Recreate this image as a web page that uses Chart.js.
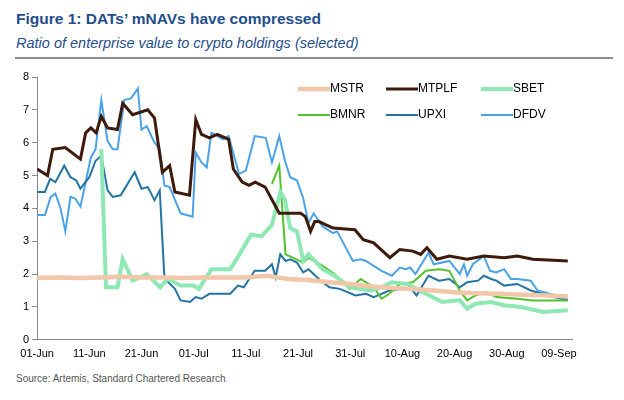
<!DOCTYPE html>
<html>
<head>
<meta charset="utf-8">
<script src="https://cdn.jsdelivr.net/npm/chart.js@4"></script>
<style>
  body { margin: 0; width: 624px; height: 400px; background: #fff; font-family: "Liberation Sans", Arial, sans-serif; position: relative; }
  #title { position: absolute; left: 16px; top: 10px; font-size: 15.5px; font-weight: bold; color: #1f4e8c; }
  #subtitle { position: absolute; left: 16px; top: 35px; font-size: 14.5px; font-style: italic; color: #1f4e8c; }
  #rule { position: absolute; left: 15px; top: 57px; width: 598px; height: 2px; background: #8c8c8c; }
  #wrap { position: absolute; left: 0; top: 62px; width: 624px; height: 302px; }
  #source { position: absolute; left: 16px; top: 373px; font-size: 10px; color: #555; }
</style>
</head>
<body>
<div id="title">Figure 1: DATs’ mNAVs have compressed</div>
<div id="subtitle">Ratio of enterprise value to crypto holdings (selected)</div>
<div id="rule"></div>
<div id="wrap"><canvas id="chart"></canvas></div>
<div id="source">Source: Artemis, Standard Chartered Research</div>
<script>
// x = days since 01-Jun
const TICK_LABELS = ["01-Jun", "11-Jun", "21-Jun", "01-Jul", "11-Jul", "21-Jul", "31-Jul", "10-Aug", "20-Aug", "30-Aug", "09-Sep"];

const mstrDays = [0, 4, 8, 12, 16, 20, 24, 28, 32, 36, 40, 44, 46, 48, 52, 56, 60, 64, 68, 72, 76, 80, 84, 88, 92, 96, 101.7];
const mstr     = [1.88, 1.9, 1.88, 1.9, 1.92, 1.9, 1.9, 1.88, 1.9, 1.9, 1.9, 1.95, 1.9, 1.85, 1.82, 1.75, 1.7, 1.62, 1.58, 1.55, 1.5, 1.45, 1.42, 1.4, 1.38, 1.36, 1.32];

const mtplfDays = [0, 2, 3, 5.4, 8.3, 9.3, 10.3, 11.3, 12.3, 13.5, 15.4, 16.4, 18.3, 21.2, 22.5, 24, 25.4, 26.4, 29.2, 30.4, 31.5, 33, 34.5, 36.7, 37.6, 39.3, 40.6, 41.8, 43.7, 46.4, 50.5, 51.4, 52.4, 53.2, 54, 56.7, 60.9, 62.5, 64.5, 67.6, 69.5, 72, 73.5, 74.7, 76.6, 79, 82.4, 85.6, 89.5, 92, 95, 101.7];
const mtplf     = [5.2, 5.0, 5.8, 5.85, 5.5, 6.3, 6.45, 6.3, 6.8, 6.45, 6.4, 7.2, 6.85, 7.0, 6.75, 5.1, 5.3, 4.5, 4.4, 6.7, 6.25, 6.15, 6.25, 6.1, 5.2, 4.8, 4.7, 4.8, 4.65, 3.85, 3.85, 3.75, 3.3, 3.6, 3.6, 3.4, 3.35, 3.05, 2.95, 2.5, 2.75, 2.7, 2.6, 2.8, 2.45, 2.55, 2.45, 2.55, 2.5, 2.55, 2.45, 2.4];

const sbetDays = [12.3, 13.2, 15.4, 16.4, 18.3, 21, 23.6, 25, 27.5, 30, 31, 33.4, 37, 38.6, 41, 43, 45, 46.6, 47.5, 48.5, 49.8, 51, 52, 54.7, 57, 60, 64, 66, 68, 71, 74.5, 77.6, 81, 82.4, 84, 87, 89.5, 92.7, 97, 101.7];
const sbet     = [5.8, 1.6, 1.6, 2.45, 1.8, 2.0, 1.6, 1.85, 1.65, 1.65, 1.55, 2.15, 2.15, 2.55, 3.2, 3.15, 3.5, 4.5, 4.25, 3.4, 3.3, 2.4, 2.6, 2.15, 1.95, 1.6, 1.5, 1.6, 1.75, 1.7, 1.4, 1.15, 1.2, 0.95, 1.1, 1.15, 1.05, 1.0, 0.85, 0.9];

const bmnrDays = [45, 46.4, 47.6, 49, 51, 52, 54.7, 57, 59.9, 62, 64.5, 66, 67.5, 69.5, 72, 74.5, 77, 79, 81, 82.4, 84, 86, 88, 92, 95, 101.7];
const bmnr     = [4.75, 5.3, 2.6, 2.5, 2.35, 2.5, 2.25, 2.0, 1.55, 1.85, 1.6, 1.25, 1.4, 1.7, 1.75, 2.1, 2.15, 2.1, 1.5, 1.2, 1.35, 1.45, 1.3, 1.25, 1.2, 1.2];

const upxiDays = [0, 1.5, 2.5, 3.5, 5.2, 6.4, 7.5, 8.3, 10, 11.2, 12.3, 13.5, 14.5, 16, 18.7, 20, 21.2, 22.5, 23.5, 24.4, 26.4, 27.5, 29.3, 30.4, 31.5, 33, 37, 38.5, 39.6, 41.7, 43.7, 45, 45.7, 46.6, 47.6, 48.5, 49.8, 51, 52, 54, 56, 58, 61, 63, 64.5, 67.5, 70, 71.5, 72.7, 75, 77, 79, 81, 82.4, 84.5, 85.6, 87, 88, 89.5, 92, 94.6, 97.8, 101.7];
const upxi     = [4.5, 4.5, 4.9, 4.8, 5.3, 4.95, 4.85, 4.6, 4.95, 5.45, 5.6, 4.55, 4.35, 4.4, 5.1, 4.6, 4.65, 4.25, 4.55, 1.87, 1.55, 1.2, 1.15, 1.3, 1.25, 1.4, 1.4, 1.65, 1.6, 2.1, 2.1, 2.3, 1.9, 2.6, 2.4, 2.45, 2.35, 2.05, 2.15, 1.85, 1.6, 1.55, 1.35, 1.4, 1.3, 1.5, 1.55, 1.6, 1.35, 1.95, 1.8, 1.85, 1.6, 1.75, 1.8, 1.95, 1.85, 1.8, 1.65, 1.7, 1.5, 1.35, 1.2];

const dfdvDays = [0, 1.5, 2.6, 3.5, 4.5, 5.4, 6.4, 7.3, 8.3, 10.3, 11.2, 12.3, 13.5, 14.5, 15.4, 16.7, 18, 19.3, 20, 21, 22.5, 23.5, 24.4, 25.4, 27.5, 29.8, 30.4, 31.5, 32.5, 33.4, 34.6, 35.6, 36.7, 38.7, 40, 41.7, 43.8, 45, 46.4, 47.5, 48.5, 49.8, 51, 52, 53, 54.7, 56.7, 57.5, 60.5, 62, 63, 66, 68, 69.5, 70.6, 71.5, 72.5, 75, 76, 79, 81, 81.8, 82.4, 83.5, 85.6, 86.8, 88, 89.5, 90.8, 92, 94.6, 95.9, 101.7];
const dfdv     = [3.8, 3.8, 4.35, 4.45, 4.0, 3.3, 4.35, 4.3, 4.05, 5.55, 5.8, 7.3, 6.05, 5.8, 5.8, 7.3, 7.35, 7.65, 6.4, 6.5, 6.0, 5.8, 4.7, 4.65, 3.85, 3.75, 5.7, 5.4, 5.25, 6.3, 6.2, 6.1, 6.2, 5.05, 5.15, 6.2, 6.15, 5.4, 6.2, 5.45, 4.95, 4.85, 4.3, 3.55, 3.85, 3.45, 3.25, 3.3, 2.4, 2.45, 2.4, 2.1, 1.95, 2.2, 2.15, 2.2, 2.0, 2.65, 2.3, 2.4, 2.0, 2.3, 1.95, 2.3, 2.55, 2.1, 2.05, 2.15, 1.85, 1.85, 1.8, 1.5, 1.25];

function pts(days, vals) { return days.map((d, i) => ({ x: d, y: vals[i] })); }

const series = [
  { label: "MSTR",  days: mstrDays,  vals: mstr,  color: "#f2c6a8", width: 4.5 },
  { label: "MTPLF", days: mtplfDays, vals: mtplf, color: "#3d1a0a", width: 3 },
  { label: "SBET",  days: sbetDays,  vals: sbet,  color: "#8de8b4", width: 4 },
  { label: "BMNR",  days: bmnrDays,  vals: bmnr,  color: "#52c22a", width: 2 },
  { label: "UPXI",  days: upxiDays,  vals: upxi,  color: "#2373a3", width: 2 },
  { label: "DFDV",  days: dfdvDays,  vals: dfdv,  color: "#4aa3ea", width: 2 }
];

// legend drawn inside the plot, 3 columns x 2 rows
const boxLegend = {
  id: 'boxLegend',
  afterDraw(chart) {
    const ctx = chart.ctx;
    const cols = [300, 388, 483];
    const rows = [89 - 62, 115 - 62];
    ctx.save();
    ctx.font = '12px "Liberation Sans", Arial, sans-serif';
    ctx.fillStyle = '#000';
    ctx.textBaseline = 'middle';
    series.forEach((s, i) => {
      const x = cols[i % 3], y = rows[Math.floor(i / 3)];
      ctx.strokeStyle = s.color;
      ctx.lineWidth = s.width;
      ctx.beginPath();
      ctx.moveTo(x - 2, y);
      ctx.lineTo(x + 30, y);
      ctx.stroke();
      ctx.fillText(s.label, x + 30, y);
    });
    ctx.restore();
  }
};

new Chart(document.getElementById('chart'), {
  type: 'line',
  data: {
    datasets: series.map(s => ({
      label: s.label,
      data: pts(s.days, s.vals),
      borderColor: s.color,
      borderWidth: s.width,
      pointRadius: 0,
      tension: 0,
      fill: false
    }))
  },
  options: {
    responsive: true,
    maintainAspectRatio: false,
    animation: false,
    layout: { padding: { left: 20, right: 52, top: 15, bottom: 0 } },
    plugins: { legend: { display: false }, tooltip: { enabled: false } },
    scales: {
      x: {
        type: 'linear',
        min: 0,
        max: 102.5,
        afterBuildTicks: axis => { axis.ticks = TICK_LABELS.map((_, i) => ({ value: i * 10 })); },
        ticks: {
          callback: v => TICK_LABELS[v / 10],
          maxRotation: 0,
          autoSkip: false,
          color: '#000',
          font: { family: '"Liberation Sans", Arial', size: 11 }
        },
        grid: { display: false, drawOnChartArea: false, drawTicks: true, tickLength: 5, color: '#888' },
        border: { display: true, color: '#888' }
      },
      y: {
        min: 0,
        max: 8,
        ticks: {
          stepSize: 1,
          color: '#000',
          font: { family: '"Liberation Sans", Arial', size: 11 }
        },
        grid: { drawOnChartArea: false, drawTicks: true, tickLength: 5, color: '#888' },
        border: { display: true, color: '#888' }
      }
    }
  },
  plugins: [boxLegend]
});
</script>
</body>
</html>
